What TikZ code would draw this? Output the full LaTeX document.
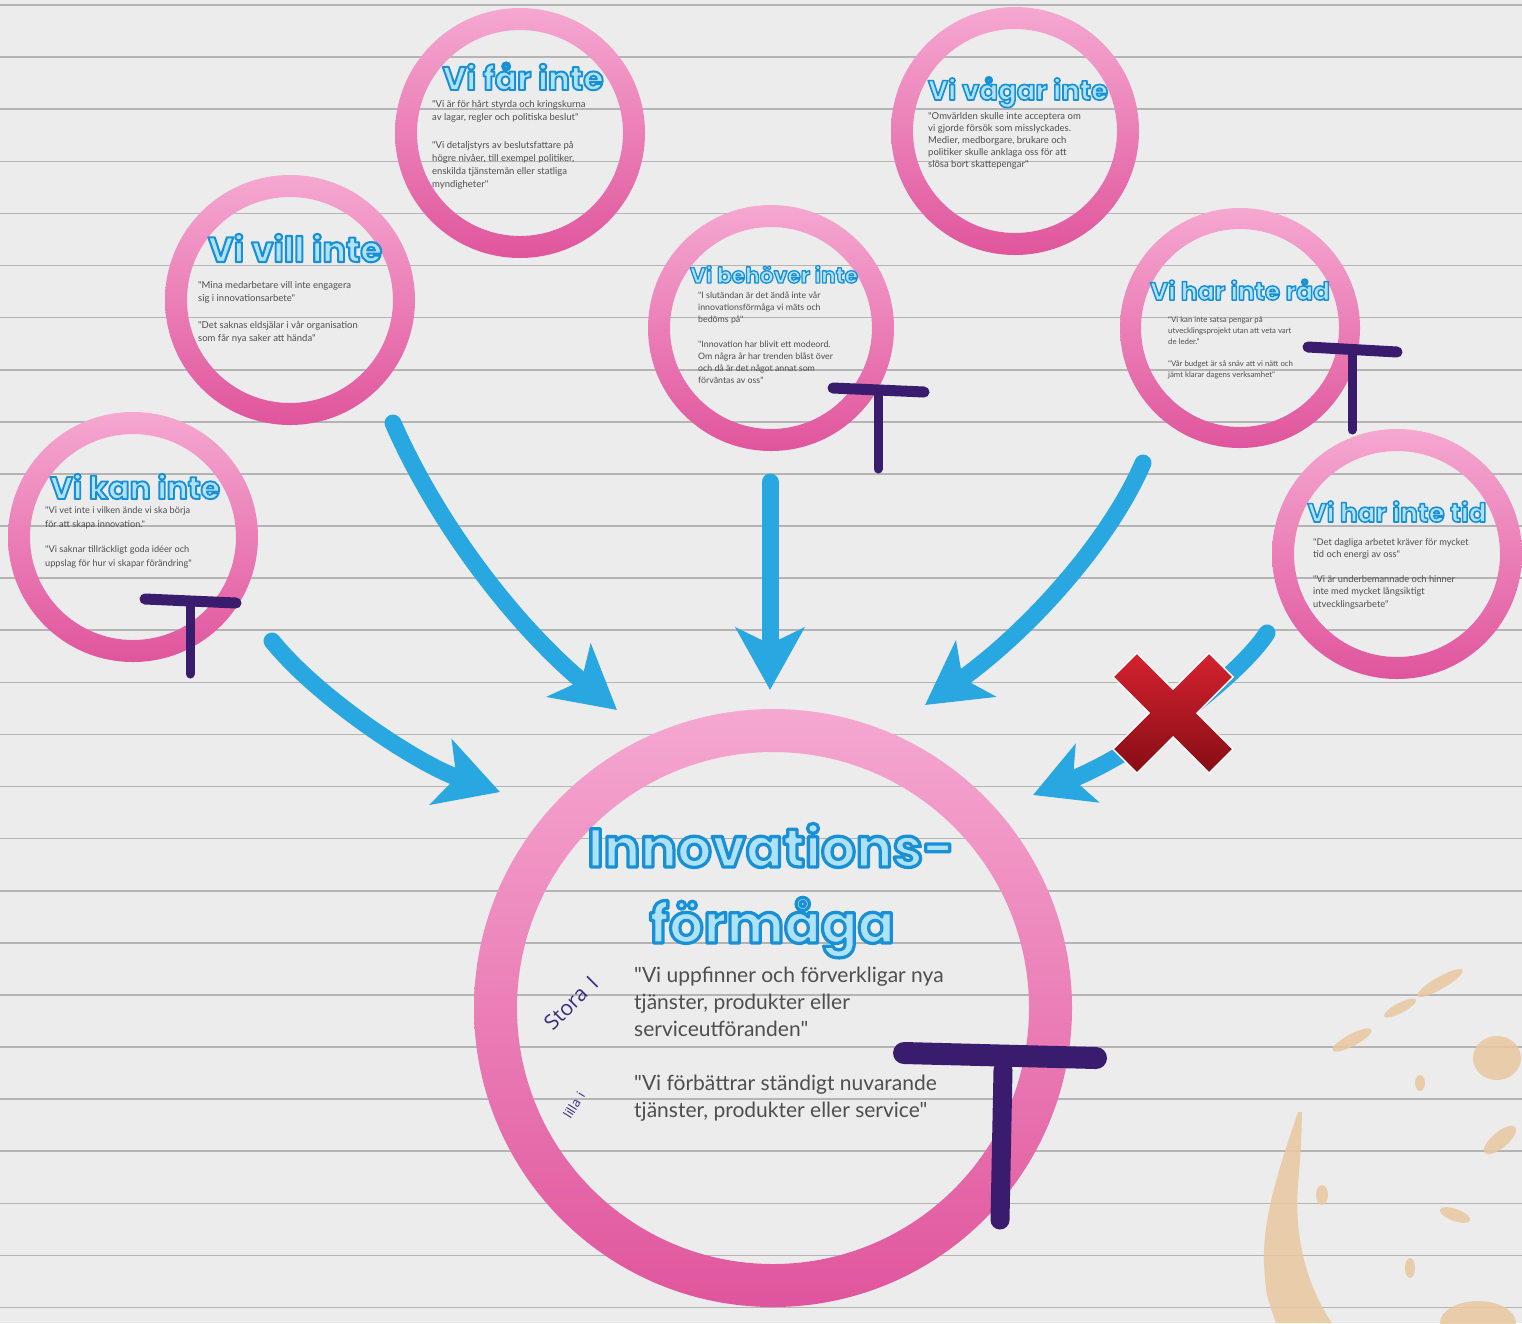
\documentclass[tikz,border=0pt]{standalone}
\usepackage{fontspec}
\setmainfont{Lato}[Ligatures=TeXOff]
\newfontfamily\titlefont{Poppins}
\newfontfamily\handfont{Open Sans}
\usepackage{graphicx}
\usetikzlibrary{arrows.meta,positioning}

\definecolor{paper}{HTML}{ECECEC}
\definecolor{ruling}{HTML}{B4B4B4}
\definecolor{ringtop}{HTML}{F5A8D0}
\definecolor{ringbot}{HTML}{E0559D}
\definecolor{flowblue}{HTML}{29A7E1}
\definecolor{titlefill}{HTML}{AEE2F8}
\definecolor{quotegray}{HTML}{4E4E4E}
\definecolor{ink}{HTML}{3A1C6E}
\definecolor{handink}{HTML}{3B2A80}
\definecolor{stopred}{HTML}{D42230}
\definecolor{stopdark}{HTML}{870D14}
\definecolor{stain}{HTML}{E9C8A0}

% pink ring: centre name, outer radius, inner radius
\newcommand\pinkring[3]{%
  \shade[ringfill, even odd rule] (#1) circle[radius=#2pt] (#1) circle[radius=#3pt];}
% hollow blue letters (fill + stroke), squeezed to a given width
\newcommand\ringtitle[2]{%
  \resizebox{#1pt}{!}{\fontsize{20}{20}\selectfont\bfseries\color{titlefill}%
    \special{pdf:literal direct 2 Tr 1.2 w 1 j 0.098 0.565 0.839 RG}#2%
    \special{pdf:literal direct 0 Tr}}}

\begin{document}
\begin{tikzpicture}[x=1pt, y=-1pt,
  ringfill/.style={top color=ringtop, bottom color=ringbot},
  flow/.style={draw=flowblue, line width=17pt, line cap=round,
    -{Stealth[length=62pt, width=68pt, inset=16pt]}},
  heading/.style={inner sep=0pt, anchor=base, font=\titlefont},
  quote/.style={text=quotegray, inner sep=0pt, align=left, anchor=north west},
  hand/.style={text=handink, inner sep=0pt, font=\handfont},
  veto/.style={draw=ink, line cap=round, line width=#1}]

  % paper
  \fill[paper] (0,0) rectangle (1522,1323);
  \useasboundingbox (0,0) rectangle (1522,1323);
  \foreach \k in {0,...,25}
    \draw[ruling, line width=1.6pt] (0,{5+52.1*\k}) -- (1522,{5+52.1*\k});

  % coffee stains
  \begin{scope}[fill=stain, opacity=.85]
    \fill (1298,1112) .. controls (1282,1160) and (1262,1215) .. (1264,1265)
      .. controls (1266,1295) .. (1276,1323) -- (1332,1323)
      .. controls (1306,1285) and (1294,1235) .. (1298,1185)
      .. controls (1301,1150) .. (1302,1112) -- cycle;
    \fill (1497,1058) ellipse (24pt and 22pt);
    \fill (1478,1323) ellipse (38pt and 22pt);
    \foreach \x/\y/\a/\b/\r in {1352/1040/22/6/28, 1400/1008/18/5/28,
        1440/983/26/6/30, 1420/1083/5/8/0, 1500/1140/20/8/40,
        1455/1215/6/16/70, 1410/1268/5/10/0, 1322/1195/6/10/0}
      \fill[rotate around={\r:(\x,\y)}] (\x,\y) ellipse (\a pt and \b pt);
  \end{scope}

  % circles
  \coordinate (far) at (520,133);
  \coordinate (vagar) at (1015,131);
  \coordinate (vill) at (290,300);
  \coordinate (behover) at (771,328);
  \coordinate (rad) at (1240,328);
  \coordinate (kan) at (133,537);
  \coordinate (tid) at (1397,554);
  \coordinate (formaga) at (773,1008);
  \pinkring{far}{125}{103}
  \pinkring{vagar}{124}{102}
  \pinkring{vill}{125}{103}
  \pinkring{behover}{123}{101}
  \pinkring{rad}{120}{99}
  \pinkring{kan}{125}{103}
  \pinkring{tid}{125}{103}
  \pinkring{formaga}{299}{256}

  % arrows into the big circle
  \coordinate (kan-out) at (272,641);
  \coordinate (vill-out) at (393,423);
  \coordinate (behover-out) at (770,482);
  \coordinate (rad-out) at (1143,463);
  \coordinate (tid-out) at (1267,633);
  \coordinate (formaga-w) at (500,792);
  \coordinate (formaga-nw) at (617,710);
  \coordinate (formaga-n) at (770,690);
  \coordinate (formaga-ne) at (925,705);
  \coordinate (formaga-e) at (1033,795);
  \draw[flow] (kan-out) .. controls (320,700) and (420,765) .. (formaga-w);
  \draw[flow] (vill-out) .. controls (440,530) and (520,630) .. (formaga-nw);
  \draw[flow] (behover-out) -- (formaga-n);
  \draw[flow] (rad-out) .. controls (1110,540) and (1030,630) .. (formaga-ne);
  \draw[flow, -{Stealth[length=58pt, width=62pt, inset=15pt]}]
    (tid-out) .. controls (1240,675) and (1140,752) .. (formaga-e);

  % headings
  \node[heading] (far-title) at (523,90) {\ringtitle{161}{Vi får inte}};
  \node[heading] (vagar-title) at (1018,100) {\ringtitle{180}{Vi vågar inte}};
  \node[heading] (vill-title) at (295,262) {\ringtitle{174}{Vi vill inte}};
  \node[heading] (behover-title) at (774,283) {\ringtitle{168}{Vi behöver inte}};
  \node[heading] (rad-title) at (1240,300) {\ringtitle{180}{Vi har inte råd}};
  \node[heading] (kan-title) at (135,499) {\ringtitle{170}{Vi kan inte}};
  \node[heading] (tid-title) at (1397,522) {\ringtitle{179}{Vi har inte tid}};
  \node[heading] (formaga-title) at (771,867) {\ringtitle{367}{Innovations-}};
  \node[heading] (formaga-title2) at (772,943) {\ringtitle{245}{förmåga}};

  % quotes
  \node[quote, font=\fontsize{9.5}{13}\selectfont] (far-text) at (432,100)
    {"Vi är för hårt styrda och kringskurna\\av lagar, regler och politiska beslut"\\[15pt]
     "Vi detaljstyrs av beslutsfattare på\\högre nivåer, till exempel politiker,\\
     enskilda tjänstemän eller statliga\\myndigheter"};
  \node[quote, font=\fontsize{9.5}{12}\selectfont] (vagar-text) at (928,112)
    {"Omvärlden skulle inte acceptera om\\vi gjorde försök som misslyckades.\\
     Medier, medborgare, brukare och\\politiker skulle anklaga oss för att\\
     slösa bort skattepengar"};
  \node[quote, font=\fontsize{9.5}{13}\selectfont] (vill-text) at (198,281)
    {"Mina medarbetare vill inte engagera\\sig i innovationsarbete"\\[14pt]
     "Det saknas eldsjälar i vår organisation\\som får nya saker att hända"};
  \node[quote, font=\fontsize{8.8}{12}\selectfont] (behover-text) at (698,292)
    {"I slutändan är det ändå inte vår\\innovationsförmåga vi mäts och\\bedöms på"\\[13pt]
     "Innovation har blivit ett modeord.\\Om några år har trenden blåst över\\
     och då är det något annat som\\förväntas av oss"};
  \node[quote, font=\fontsize{7.8}{11}\selectfont] (rad-text) at (1168,316)
    {"Vi kan inte satsa pengar på\\utvecklingsprojekt utan att veta vart\\de leder."\\[11pt]
     "Vår budget är så snäv att vi nätt och\\jämt klarar dagens verksamhet"};
  \node[quote, font=\fontsize{9.2}{13.5}\selectfont] (kan-text) at (45,507)
    {"Vi vet inte i vilken ände vi ska börja\\för att skapa innovation."\\[12pt]
     "Vi saknar tillräckligt goda idéer och\\uppslag för hur vi skapar förändring"};
  \node[quote, font=\fontsize{9.3}{12.5}\selectfont] (tid-text) at (1313,538)
    {"Det dagliga arbetet kräver för mycket\\tid och energi av oss"\\[12pt]
     "Vi är underbemannade och hinner\\inte med mycket långsiktigt\\utvecklingsarbete"};
  \node[quote, font=\fontsize{21}{27}\selectfont] (formaga-text) at (634,967)
    {"Vi uppfinner och förverkligar nya\\tjänster, produkter eller\\serviceutföranden"\\[27pt]
     "Vi förbättrar ständigt nuvarande\\tjänster, produkter eller service"};

  % handwritten notes
  \node[hand, rotate=45, font=\handfont\fontsize{21}{21}\selectfont] (stora) at (571,1003) {Stora\hspace{9pt}I};
  \node[hand, rotate=58, font=\handfont\fontsize{13}{13}\selectfont] (lilla) at (574,1105) {lilla\hspace{5pt}i};

  % blocking marks
  \draw[veto=11pt] (145,599) -- (236,603);
  \draw[veto=9pt] (190,606) -- (190,674);
  \draw[veto=11pt] (833,388) -- (924,392);
  \draw[veto=9pt] (878,394) -- (878,469);
  \draw[veto=11pt] (1308,347) -- (1397,352);
  \draw[veto=9pt] (1352,354) -- (1352,430);
  \draw[veto=22pt] (904,1053) -- (1096,1058);
  \draw[veto=19pt] (1003,1070) -- (1000,1220);

  % red cross over the last arrow
  \coordinate (stop) at (1173,713);
  \begin{scope}[shift={(stop)}, rotate=45]
    \shade[top color=stopred, bottom color=stopdark, draw=white, line width=1.5pt]
      (17,68) -- (17,17) -- (68,17) -- (68,-17) -- (17,-17) -- (17,-68)
      -- (-17,-68) -- (-17,-17) -- (-68,-17) -- (-68,17) -- (-17,17) -- (-17,68) -- cycle;
  \end{scope}
\end{tikzpicture}
\end{document}
